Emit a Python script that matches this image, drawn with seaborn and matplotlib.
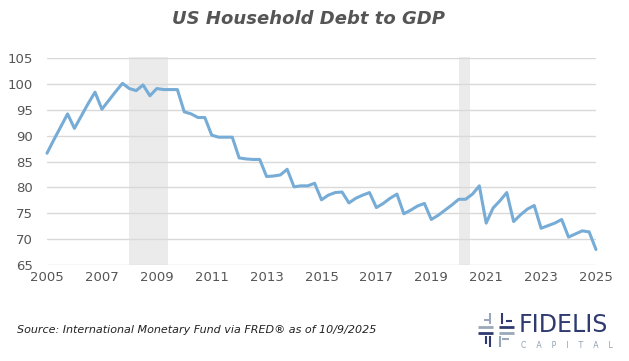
import numpy as np
import pandas as pd
import seaborn as sns
import matplotlib.pyplot as plt
from matplotlib.lines import Line2D

# quarterly values, 2005 Q1 .. 2025 Q1
years = np.arange(81) / 4 + 2005
debt_gdp = [
    86.6, 89.2, 91.7, 94.2,   # 2005
    91.4, 93.8, 96.2, 98.4,   # 2006
    95.1, 96.8, 98.5, 100.1,  # 2007
    99.1, 98.7, 99.8, 97.7,   # 2008
    99.1, 98.9, 98.9, 98.9,   # 2009
    94.6, 94.2, 93.5, 93.5,   # 2010
    90.1, 89.7, 89.7, 89.7,   # 2011
    85.7, 85.5, 85.4, 85.4,   # 2012
    82.1, 82.2, 82.4, 83.5,   # 2013
    80.1, 80.3, 80.3, 80.8,   # 2014
    77.6, 78.5, 79.0, 79.1,   # 2015
    77.0, 77.9, 78.5, 79.0,   # 2016
    76.1, 76.9, 77.9, 78.7,   # 2017
    74.9, 75.6, 76.4, 76.9,   # 2018
    73.8, 74.6, 75.6, 76.6,   # 2019
    77.7, 77.7, 78.7, 80.3,   # 2020
    73.1, 76.0, 77.4, 79.0,   # 2021
    73.4, 74.7, 75.8, 76.5,   # 2022
    72.1, 72.6, 73.1, 73.8,   # 2023
    70.4, 71.0, 71.6, 71.4,   # 2024
    68.0,                     # 2025
]
recessions = [(2008.0, 2009.42), (2020.02, 2020.41)]
year_ticks = list(range(2005, 2026, 2))
y_ticks = list(range(65, 106, 5))

df = pd.DataFrame({"year": years, "ratio": debt_gdp})

sns.set_theme(style="white")
plt.rcParams["font.family"] = ["DejaVu Sans"]

fig = plt.figure(figsize=(6.29, 3.61), dpi=100)
ax = fig.add_axes([0.0747, 0.2659, 0.8728, 0.5734])

for a, b in recessions:
    ax.axvspan(a, b, ymin=0, ymax=1.005, color="#ebebeb", lw=0, zorder=0, clip_on=False)

ax.yaxis.grid(True, color="#d9d9d9", lw=1.0)
ax.set_axisbelow(True)
sns.lineplot(data=df, x="year", y="ratio", color="#76acd6", lw=2.2, ax=ax, zorder=3)
for ln in ax.lines:
    ln.set_clip_on(False)

ax.set_xlim(2005, 2025)
ax.set_ylim(65, 105)
ax.set_xticks(year_ticks)
ax.set_yticks(y_ticks)
ax.tick_params(axis="both", length=0, labelsize=9.5, labelcolor="#555555")
ax.tick_params(axis="x", pad=4)
ax.tick_params(axis="y", pad=10)
ax.set_xlabel("")
ax.set_ylabel("")
sns.despine(ax=ax, left=True, bottom=True)

fig.text(0.49, 0.947, "US Household Debt to GDP", ha="center", va="center",
         fontsize=13, fontweight="bold", fontstyle="italic", color="#555555")
fig.text(0.027, 0.085, "Source: International Monetary Fund via FRED\u00ae as of 10/9/2025",
         ha="left", va="center", fontsize=8, fontstyle="italic", color="#222222")

# logo
fig.text(0.825, 0.101, "FIDELIS", ha="left", va="center", fontsize=17,
         color="#2f3b70")
fig.text(0.828, 0.044, "C    A    P    I    T    A    L", ha="left", va="center", fontsize=5.6,
         color="#8fa0b5")
W, H = 629, 361
def seg(x0, y0, x1, y1, c, lw=2.0):
    fig.add_artist(Line2D([x0 / W, x1 / W], [1 - y0 / H, 1 - y1 / H], color=c, lw=lw,
                          solid_capstyle="butt"))
navy, grey = "#2f3b70", "#9aa8ba"
seg(478, 327, 493, 327, grey)
seg(499, 327, 514, 327, navy)
seg(478, 333, 493, 333, navy)
seg(499, 333, 514, 333, grey)
seg(484, 320, 491, 320, grey, 1.5)
seg(490, 313, 490, 324, grey, 1.5)
seg(502, 313, 502, 324, navy, 1.5)
seg(506, 321, 512, 321, navy, 1.5)
seg(490, 336, 490, 347, navy, 1.5)
seg(486, 336, 486, 344, navy, 1.5)
seg(500, 336, 500, 347, grey, 1.5)
seg(502, 339, 509, 339, grey, 1.5)

fig.savefig("out.png", dpi=100, facecolor="white")
